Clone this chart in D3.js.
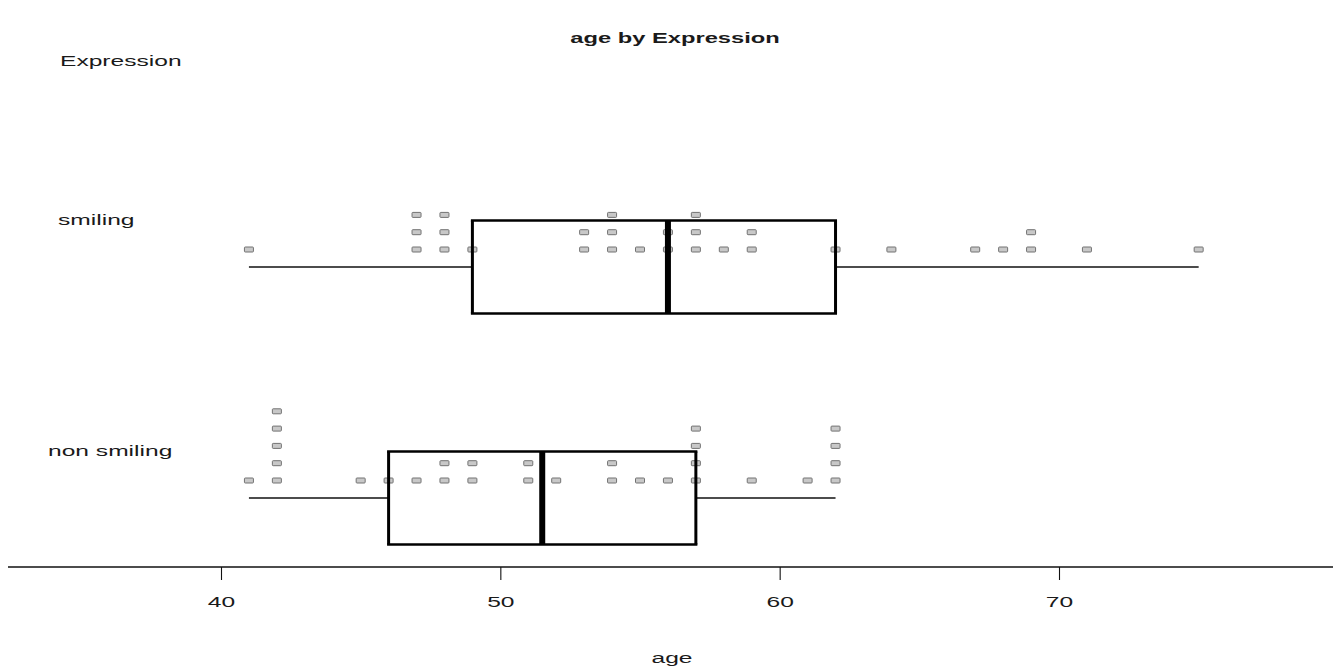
<!DOCTYPE html>
<html>
<head>
<meta charset="utf-8">
<script src="https://cdn.jsdelivr.net/npm/d3@7"></script>
<style>
  body { margin: 0; background: #fff; }
  text { font-family: "Liberation Sans", Arial, sans-serif; fill: #1a1a1a; }
</style>
</head>
<body>
<svg id="chart" width="1338" height="670"></svg>
<script>
// Ages per expression group, one entry per subject
const groups = ["smiling", "non smiling"];
const smilingAges = [41, 47, 47, 47, 48, 48, 48, 49, 53, 53, 54, 54, 54, 55, 56, 56,
                     57, 57, 57, 58, 59, 59, 62, 64, 67, 68, 69, 69, 71, 75];
const nonSmilingAges = [41, 42, 42, 42, 42, 42, 45, 46, 47, 48, 48, 49, 49, 51, 51, 52,
                        54, 54, 55, 56, 57, 57, 57, 57, 59, 61, 62, 62, 62, 62];
const tickValues = [40, 50, 60, 70];
const titleText = "age by Expression";
const axisTitle = "age";
const groupTitle = "Expression";

const agesByGroup = { "smiling": smilingAges, "non smiling": nonSmilingAges };

// Layout
const axisY = 567;
const boxHalf = 46.5;
const stretch = 1.64;          // horizontal stretch applied to all text
const fontSize = 15;

const svg = d3.select("#chart");

const x = d3.scaleLinear().domain([40, 70]).range([221, 1059]);
const y = d3.scalePoint().domain(groups).range([267, 498]);

// Tukey five-number summary (hinges), as in R's fivenum
function fivenum(values) {
  const s = values.slice().sort(d3.ascending);
  const n = s.length;
  const n4 = Math.floor((n + 3) / 2) / 2;
  const d = [1, n4, (n + 1) / 2, n + 1 - n4, n];
  return d.map(k => 0.5 * (s[Math.floor(k) - 1] + s[Math.ceil(k) - 1]));
}

function boxStats(values) {
  const [lo, q1, med, q3, hi] = fivenum(values);
  const iqr = q3 - q1;
  const inside = values.filter(v => v >= q1 - 1.5 * iqr && v <= q3 + 1.5 * iqr);
  return { q1, med, q3, wLo: d3.min(inside), wHi: d3.max(inside) };
}

function stretchedText(sel, tx, ty, str, opts = {}) {
  return sel.append("text")
    .attr("transform", `translate(${tx},${ty}) scale(${opts.stretch || stretch},1)`)
    .attr("text-anchor", opts.anchor || "start")
    .attr("font-size", opts.size || fontSize)
    .attr("font-weight", opts.weight || "normal")
    .text(str);
}

// Title and group header
stretchedText(svg, 675, 43, titleText, { anchor: "middle", weight: "bold", stretch: 1.58 });
stretchedText(svg, 60, 66, groupTitle);

// Group labels
const labelX = { "smiling": 58, "non smiling": 48 };
groups.forEach(g => stretchedText(svg, labelX[g], y(g) - 42, g));

// Stacked dots: repeated ages pile upward above the whisker (drawn under the boxes)
const dots = [];
groups.forEach(g => {
  const counts = new Map();
  agesByGroup[g].forEach(v => {
    const k = counts.get(v) || 0;
    counts.set(v, k + 1);
    dots.push({ group: g, age: v, level: k });
  });
});
svg.append("g").selectAll("rect").data(dots).join("rect")
  .attr("x", d => x(d.age) - 4.5)
  .attr("y", d => y(d.group) - 17.5 - 17.3 * d.level - 2.5)
  .attr("width", 9).attr("height", 5).attr("rx", 0.8)
  .attr("fill", "#c8c8c8").attr("stroke", "#727272").attr("stroke-width", 1);

// Box plots
const boxes = svg.append("g");
groups.forEach(g => {
  const st = boxStats(agesByGroup[g]);
  const cy = y(g);
  const gb = boxes.append("g");
  // whiskers
  gb.append("line").attr("x1", x(st.wLo)).attr("x2", x(st.q1))
    .attr("y1", cy).attr("y2", cy).attr("stroke", "#111").attr("stroke-width", 1.6);
  gb.append("line").attr("x1", x(st.q3)).attr("x2", x(st.wHi))
    .attr("y1", cy).attr("y2", cy).attr("stroke", "#111").attr("stroke-width", 1.6);
  // box edges
  [cy - boxHalf, cy + boxHalf].forEach(yy =>
    gb.append("line").attr("x1", x(st.q1) - 1.5).attr("x2", x(st.q3) + 1.5)
      .attr("y1", yy).attr("y2", yy).attr("stroke", "#000").attr("stroke-width", 2.4));
  [st.q1, st.q3].forEach(v =>
    gb.append("line").attr("x1", x(v)).attr("x2", x(v))
      .attr("y1", cy - boxHalf).attr("y2", cy + boxHalf)
      .attr("stroke", "#000").attr("stroke-width", 3));
  // median
  gb.append("line").attr("x1", x(st.med)).attr("x2", x(st.med))
    .attr("y1", cy - boxHalf).attr("y2", cy + boxHalf)
    .attr("stroke", "#000").attr("stroke-width", 6);
});

// Age axis
const axis = d3.axisBottom(x).tickValues(tickValues).tickSize(13).tickSizeOuter(0);
const ga = svg.append("g").attr("transform", `translate(0,${axisY})`).call(axis);
ga.select(".domain").attr("d", "M8,0H1333").attr("stroke", "#111").attr("stroke-width", 1.3);
ga.selectAll(".tick line").attr("stroke", "#111").attr("stroke-width", 1.1);
ga.selectAll(".tick text")
  .attr("y", 0).attr("dy", 0)
  .attr("transform", `translate(0,40) scale(${stretch},1)`)
  .attr("font-size", fontSize)
  .attr("font-family", "Liberation Sans, Arial, sans-serif")
  .attr("fill", "#1a1a1a");

stretchedText(svg, 672, 663, axisTitle, { anchor: "middle" });
</script>
</body>
</html>
